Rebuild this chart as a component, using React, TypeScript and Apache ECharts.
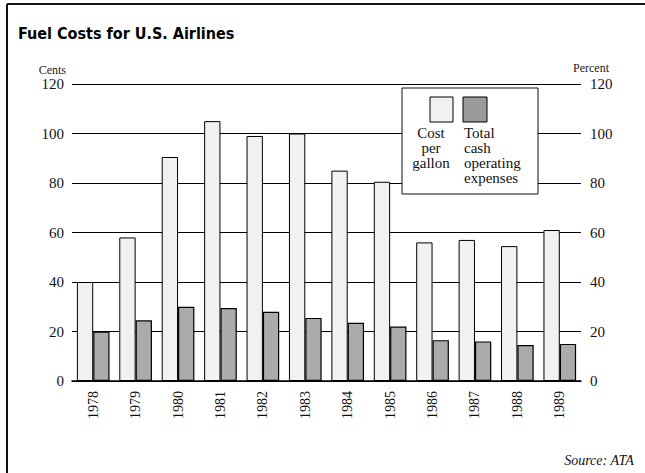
import React, { useEffect, useRef } from "react";
import * as echarts from "echarts";

const years = ["1978", "1979", "1980", "1981", "1982", "1983", "1984", "1985", "1986", "1987", "1988", "1989"];
const costPerGallon = [40, 58, 90.5, 105, 99, 100, 85, 80.5, 56, 57, 54.5, 61];
const cashOpExpenses = [20, 24.5, 30, 29.5, 28, 25.5, 23.5, 22, 16.5, 16, 14.5, 15];
const leftTicks = [0, 20, 40, 60, 80, 100, 120];

const serif = "'Liberation Serif', 'DejaVu Serif', serif";

export default function App() {
  const ref = useRef<HTMLDivElement>(null);
  useEffect(() => {
    if (!ref.current) return;
    const chart = echarts.init(ref.current, null, { renderer: "svg" });
    const maxTick = leftTicks[leftTicks.length - 1];
    const step = leftTicks[1] - leftTicks[0];
    chart.setOption({
      animation: false,
      backgroundColor: "#ffffff",
      grid: { left: 72, right: 64, top: 84, bottom: 92, containLabel: false },
      xAxis: {
        type: "category",
        data: years,
        axisLine: { show: true, lineStyle: { color: "#000", width: 1.5 } },
        axisTick: { show: false },
        axisLabel: {
          rotate: 90,
          margin: 10,
          fontFamily: serif,
          fontSize: 14,
          color: "#111",
        },
      },
      yAxis: [
        {
          type: "value",
          min: 0,
          max: maxTick,
          interval: step,
          name: "Cents",
          nameLocation: "end",
          nameGap: 8,
          nameTextStyle: { fontFamily: serif, fontSize: 12, color: "#222", align: "right", padding: [0, 6, 0, 0] },
          axisLine: { show: false },
          axisTick: { show: false },
          axisLabel: { fontFamily: serif, fontSize: 15, color: "#111", margin: 8 },
          splitLine: { show: true, lineStyle: { color: "#000", width: 1 } },
        },
        {
          type: "value",
          min: 0,
          max: maxTick,
          interval: step,
          position: "right",
          name: "Percent",
          nameLocation: "end",
          nameGap: 10,
          nameTextStyle: { fontFamily: serif, fontSize: 12, color: "#222", align: "left", padding: [0, 0, 0, -8] },
          axisLine: { show: false },
          axisTick: { show: false },
          axisLabel: { fontFamily: serif, fontSize: 15, color: "#111", margin: 9 },
          splitLine: { show: false },
        },
      ],
      series: [
        {
          name: "Cost per gallon",
          type: "bar",
          yAxisIndex: 0,
          data: costPerGallon,
          barGap: "0%",
          barCategoryGap: "23%",
          itemStyle: { color: "#f1f1f1", borderColor: "#000", borderWidth: 1 },
        },
        {
          name: "Total cash operating expenses",
          type: "bar",
          yAxisIndex: 1,
          data: cashOpExpenses,
          barGap: "0%",
          barCategoryGap: "23%",
          itemStyle: { color: "#ababab", borderColor: "#000", borderWidth: 1.2 },
        },
      ],
      graphic: [
        { type: "line", shape: { x1: 7, y1: 4, x2: 645, y2: 4 }, style: { stroke: "#111", lineWidth: 2 } },
        { type: "line", shape: { x1: 7, y1: 4, x2: 7, y2: 473 }, style: { stroke: "#111", lineWidth: 2 } },
        {
          type: "text",
          left: 18,
          top: 25,
          style: {
            text: "Fuel Costs for U.S. Airlines",
            font: "bold 16px 'DejaVu Sans Condensed', 'DejaVu Sans', sans-serif",
            fill: "#000",
          },
        },
        {
          type: "rect",
          z: 100,
          shape: { x: 402, y: 88, width: 136, height: 106 },
          style: { fill: "#fff", stroke: "#111", lineWidth: 1 },
        },
        {
          type: "rect",
          z: 101,
          shape: { x: 430, y: 97, width: 23, height: 25 },
          style: { fill: "#f1f1f1", stroke: "#000", lineWidth: 1 },
        },
        {
          type: "rect",
          z: 101,
          shape: { x: 463, y: 97, width: 24, height: 25 },
          style: { fill: "#9a9a9a", stroke: "#000", lineWidth: 1 },
        },
        {
          type: "text",
          z: 101,
          x: 431,
          y: 125,
          style: {
            text: "Cost\nper\ngallon",
            font: "15px " + serif,
            lineHeight: 15,
            align: "center",
            fill: "#111",
          },
        },
        {
          type: "text",
          z: 101,
          x: 464,
          y: 125,
          style: {
            text: "Total\ncash\noperating\nexpenses",
            font: "15px " + serif,
            lineHeight: 15,
            align: "left",
            fill: "#111",
          },
        },
        {
          type: "text",
          right: 11,
          top: 453,
          style: { text: "Source: ATA", font: "italic 14px " + serif, fill: "#111" },
        },
      ],
    });
    return () => chart.dispose();
  }, []);
  return <div ref={ref} style={{ position: "fixed", left: 0, top: 0, width: 645, height: 473 }} />;
}
